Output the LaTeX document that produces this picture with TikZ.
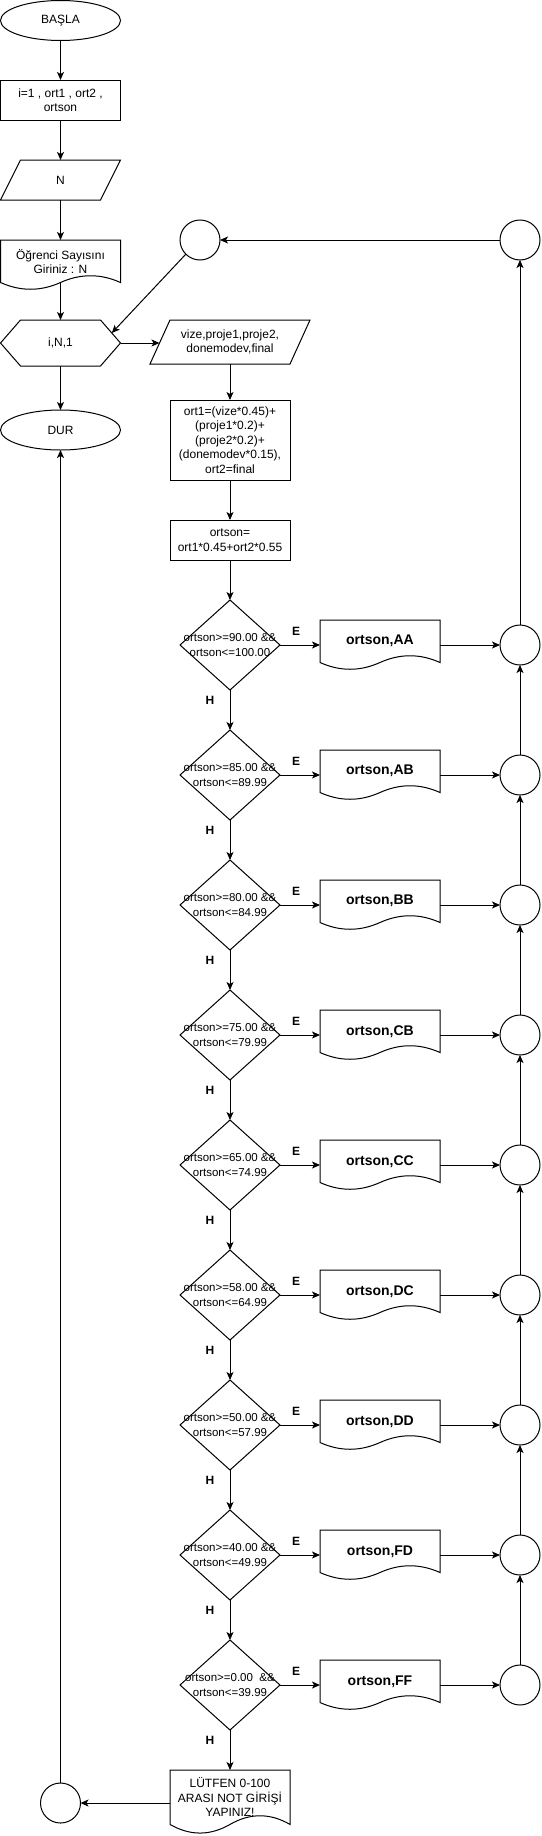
\documentclass[tikz,border=0pt]{standalone}
\usepackage{fontspec}
\setmainfont{Liberation Sans}
\usetikzlibrary{shapes.geometric,arrows.meta}
\newcommand\mydocpath[4]{%
  \draw (#1,#2) -- ({#1+#3},#2) -- ({#1+#3},{#2+0.85*#4})
    .. controls ({#1+0.8333*#3},{#2+0.67*#4}) and ({#1+0.6667*#3},{#2+0.67*#4}) .. ({#1+0.5*#3},{#2+0.85*#4})
    .. controls ({#1+0.3333*#3},{#2+1.03*#4}) and ({#1+0.1667*#3},{#2+1.03*#4}) .. (#1,{#2+0.85*#4}) -- cycle;}
\begin{document}
\begin{tikzpicture}[x=1pt,y=-1pt,line width=1pt,
  base/.style={inner sep=0pt,outer sep=0pt,font=\fontsize{12}{14.4}\selectfont,align=center},
  stepbox/.style={base,draw,rectangle,minimum width=120pt},
  term/.style={base,draw,ellipse,minimum width=120pt,minimum height=40pt},
  ghost/.style={base,rectangle,minimum width=120pt},
  cond/.style={draw,diamond,minimum width=100pt,minimum height=90pt,inner sep=0pt,outer sep=0pt},
  condtext/.style={font=\fontsize{11.5}{15}\selectfont,align=center,inner sep=0pt},
  junc/.style={draw,circle,minimum size=40pt,inner sep=0pt,outer sep=0pt},
  flow/.style={-{Stealth[length=8pt,width=7pt,inset=2pt]}},
  yesno/.style={font=\fontsize{12}{14}\selectfont\bfseries,inner sep=0pt},
  outtext/.style={font=\fontsize{14}{16.8}\selectfont\bfseries},
]
\useasboundingbox (0,0) rectangle (541,1836);

% left column
\node[term] (start) at (60.5,20.5) {BAŞLA};
\node[stepbox,minimum height=40pt] (init) at (60.5,100) {i=1 , ort1 , ort2 ,\\ ortson};
\node[ghost,minimum height=40pt] (nin) at (60.5,180) {N};
\draw (20.5,160) -- (120.5,160) -- (100.5,200) -- (0.5,200) -- cycle;
\mydocpath{0.5}{240}{120}{50}
\node[ghost,minimum height=42.5pt] (og) at (60.5,261.25) {Öğrenci Sayısını\\ Giriniz : N};
\node[ghost,minimum height=46pt] (hex) at (60.5,343) {i,N,1};
\draw (0.5,343) -- (20.5,320) -- (100.5,320) -- (120.5,343) -- (100.5,366) -- (20.5,366) -- cycle;
\coordinate (hexin) at (111.8,333);
\node[term] (dur) at (60.5,430) {DUR};

% second column top
\node[base,minimum width=160pt,minimum height=44pt] (vize) at (230,342) {vize,proje1,proje2,\\ donemodev,final};
\draw (170,320) -- (310,320) -- (290,364) -- (150,364) -- cycle;
\coordinate (vizein) at (159.5,343);
\node[stepbox,minimum height=80pt] (ort1) at (230,440) {ort1=(vize*0.45)+\\ (proje1*0.2)+\\ (proje2*0.2)+\\ (donemodev*0.15),\\ ort2=final};
\node[stepbox,minimum height=40pt] (ortson) at (230,540) {ortson=\\ ort1*0.45+ort2*0.55};

% top circles
\node[junc] (cr) at (520,240) {};
\node[junc] (cl) at (200,240) {};

% decision chain
\foreach \k/\txt/\g in {
  0/{ortson>=90.00 \&\&\\ ortson<=100.00}/AA,
  1/{ortson>=85.00 \&\&\\ ortson<=89.99}/AB,
  2/{ortson>=80.00 \&\&\\ ortson<=84.99}/BB,
  3/{ortson>=75.00 \&\&\\ ortson<=79.99}/CB,
  4/{ortson>=65.00 \&\&\\ ortson<=74.99}/CC,
  5/{ortson>=58.00 \&\&\\ ortson<=64.99}/DC,
  6/{ortson>=50.00 \&\&\\ ortson<=57.99}/DD,
  7/{ortson>=40.00 \&\&\\ ortson<=49.99}/FD,
  8/{ortson>=0.00~ \&\&\\ ortson<=39.99}/FF}{
  \pgfmathsetmacro\yy{645+130*\k}
  \node[cond,label={[condtext]center:\txt}] (D\k) at (230,\yy) {};
  \mydocpath{320}{\yy-25}{120}{50}
  \node[ghost,outtext] (d\k) at (380,\yy-3.75) [minimum height=42.5pt] {ortson,\g};
  \node[junc] (c\k) at (520,\yy) {};
  \node[yesno] (e\k) at (296,\yy-14) {E};
  \node[yesno] (h\k) at (210,\yy+55) {H};
  \draw[flow] (D\k.east) -- (d\k.west |- D\k.east);
  \draw[flow] (d\k.east |- D\k.east) -- (c\k);
}
\foreach \k in {0,...,7}{
  \pgfmathtruncatemacro\n{\k+1}
  \draw[flow] (D\k.south) -- (D\n.north);
  \draw[flow] (c\n.north) -- (c\k.south);
}

% bottom
\mydocpath{170}{1770}{120}{64}
\node[ghost,minimum height=54.4pt] (lut) at (230,1797.2) {LÜTFEN 0-100\\ ARASI NOT GİRİŞİ\\ YAPINIZ!};
\node[junc] (cb) at (60.5,1803) {};

% connectors
\draw[flow] (start.south) -- (init.north);
\draw[flow] (init.south) -- (nin.north);
\draw[flow] (nin.south) -- (og.north);
\draw[flow] (og.south) -- (hex.north);
\draw[flow] (hex.south) -- (dur.north);
\draw[flow] (hex.east) -- (vizein);
\draw[flow] (vize.south) -- (ort1.north);
\draw[flow] (ort1.south) -- (ortson.north);
\draw[flow] (ortson.south) -- (D0.north);
\draw[flow] (D8.south) -- (lut.north);
\draw[flow] (c0.north) -- (cr.south);
\draw[flow] (cr.west) -- (cl.east);
\draw[flow] (cl.225) -- (hexin);
\draw[flow] (lut.west |- cb) -- (cb.east);
\draw[flow] (cb.north) -- (dur.south);
\end{tikzpicture}
\end{document}
